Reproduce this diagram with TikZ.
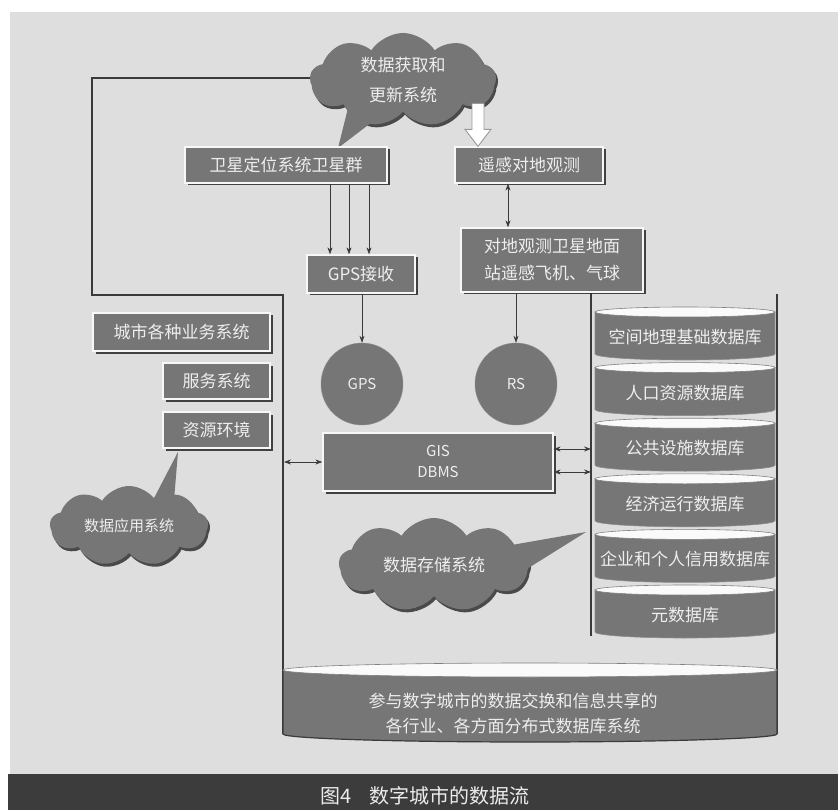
\documentclass[tikz,border=0pt]{standalone}
\usepackage{fontspec}
\setmainfont{Noto Sans CJK SC}
\usetikzlibrary{shapes.symbols,shadows,arrows.meta}
\definecolor{bg}{HTML}{DEDEDE}
\definecolor{boxg}{HTML}{767676}
\definecolor{txt}{HTML}{EEEEEE}
\definecolor{band}{HTML}{3C3C3C}
\definecolor{linec}{HTML}{3A3A3A}
\tikzset{
  bevel/.style={rectangle, fill=boxg, draw=white!94!gray, line width=1.3pt, text=txt,
    font=\fontsize{17}{27}\selectfont, align=center, inner sep=1pt,
    drop shadow={shadow xshift=2.5pt, shadow yshift=-2.5pt, fill=black!85, opacity=0.85}},
  arr/.style={draw=linec, line width=0.7pt, -{Stealth[length=7pt,width=5pt]}},
  darr/.style={draw=linec, line width=0.7pt, {Stealth[length=7pt,width=5pt]}-{Stealth[length=7pt,width=5pt]}},
  loopline/.style={draw=linec, line width=1.8pt},
  cloudn/.style={cloud, cloud puffs=9, cloud puff arc=115, cloud ignores aspect, fill=boxg,
    text=txt, inner sep=0pt, align=center, font=\fontsize{17}{30}\selectfont,
    drop shadow={shadow xshift=2pt, shadow yshift=-3pt, fill=black!85, opacity=0.8}},
  tailn/.style={fill=boxg},
  ball/.style={circle, fill=boxg, draw=black!45, text=txt, minimum size=82pt, inner sep=0pt,
    font=\fontsize{15}{18}\selectfont},
  dbtext/.style={text=txt, font=\fontsize{17}{25}\selectfont, align=center, inner sep=0pt},
  cylbody/.style={fill=boxg, draw=black!45, line width=0.6pt},
  cyltop/.style={fill=white!96!gray, draw=gray, line width=0.6pt},
}
\begin{document}
\begin{tikzpicture}[x=1pt,y=-1pt]
\useasboundingbox (0,0) rectangle (838,810);
\fill[white] (0,0) rectangle (838,810);
\fill[bg] (10,12) rectangle (838,774);
\fill[band] (8,774) rectangle (838,810);
\node[text=white!85!gray, font=\fontsize{20}{22}\selectfont, inner sep=0pt] (cap) at (425,796) {图4\hspace{18pt}数字城市的数据流};

% loop line and stack lines (behind shapes)
\path[loopline] (330,78) -- (92,78) -- (92,295) -- (283,295) -- (283,734);
\coordinate (stl) at (591,292);
\coordinate (str) at (777,294);
\path[loopline] (stl) -- (591,636);
\path[loopline] (str) -- (777,734);

% top cloud
\node[cloudn, minimum width=186pt, minimum height=94pt] (acq) at (403,80) {数据获取和\\更新系统};
\fill[tailn] (348,108) -- (380,116) -- (338,148) -- cycle;

% boxes
\node[bevel, minimum width=202pt, minimum height=36pt] (wx) at (286,165) {卫星定位系统卫星群};
\node[bevel, minimum width=148pt, minimum height=36pt] (yg) at (529,165) {遥感对地观测};
\node[bevel, minimum width=182pt, minimum height=64pt] (dm) at (552,260) {对地观测卫星地面\\站遥感飞机、气球};
\node[bevel, minimum width=108pt, minimum height=38pt] (gpsr) at (361,274) {GPS接收};
\node[bevel, minimum width=230pt, minimum height=58pt, font=\fontsize{15}{21}\selectfont] (gis) at (438,462) {GIS\\DBMS};
\node[bevel, minimum width=177pt, minimum height=38pt] (city) at (181.5,332) {城市各种业务系统};
\node[bevel, minimum width=107pt, minimum height=36pt] (fw) at (216.5,381) {服务系统};
\node[bevel, minimum width=107pt, minimum height=36pt] (zy) at (216.5,430) {资源环境};

% big hollow arrow from cloud to remote sensing box
\coordinate (tip) at ([xshift=-51pt]yg.north);
\path[fill=white, draw=gray!80, line width=0.9pt] (tip) -- ++(-13,-17) -- ++(7,0) -- ++(0,-26) -- ++(12,0) -- ++(0,26) -- ++(7,0) -- cycle;

% circles
\node[ball] (gps) at (362,384) {GPS};
\node[ball] (rs) at (516,384) {RS};

% arrows
\draw[arr] ([xshift=-31pt]gpsr.north |- wx.south) -- ([xshift=-31pt]gpsr.north);
\draw[arr] ([xshift=-12pt]gpsr.north |- wx.south) -- ([xshift=-12pt]gpsr.north);
\draw[arr] ([xshift=8pt]gpsr.north |- wx.south) -- ([xshift=8pt]gpsr.north);
\draw[darr] ([xshift=-21pt]yg.south) -- ([xshift=-21pt]yg.south |- dm.north);
\draw[arr] (gps.north |- gpsr.south) -- (gps.north);
\draw[arr] (rs.north |- dm.south) -- (rs.north);
\coordinate (lj) at (284,462);
\draw[darr] (lj) -- (gis.west);
\coordinate (rj1) at (591,449);
\coordinate (rj2) at (591,472);
\draw[darr] (gis.east |- rj1) -- (rj1);
\draw[darr] (gis.east |- rj2) -- (rj2);

% application cloud
\node[cloudn, minimum width=158pt, minimum height=80pt, font=\fontsize{15}{18}\selectfont] (app) at (129,526) {数据应用系统};
\fill[tailn] (152,502) -- (174,500) -- (178,452) -- cycle;

% storage cloud
\node[cloudn, minimum width=190pt, minimum height=94pt] (sto) at (434,565) {数据存储系统};
\fill[tailn] (506,546) -- (586,532) -- (522,572) -- cycle;

% database stack
\foreach \t [count=\i from 0] in {空间地理基础数据库,人口资源数据库,公共设施数据库,经济运行数据库,企业和个人信用数据库,元数据库} {
  \pgfmathsetmacro\yt{312+55.6*\i}
  \path[cylbody] (595,\yt) -- (595,\yt+42) arc[start angle=180,end angle=360,x radius=90pt,y radius=6pt] -- (775,\yt) -- cycle;
  \path[cyltop] (685,\yt) ellipse[x radius=90pt, y radius=5pt];
  \node[dbtext] (db\i) at (685,\yt+25) {\t};
}

% bottom big cylinder
\path[cylbody, draw=linec, line width=1.2pt] (283,670) -- (283,734) arc[start angle=180,end angle=360,x radius=247pt,y radius=8pt] -- (777,670) -- cycle;
\path[cyltop] (530,670) ellipse[x radius=247pt, y radius=7pt];
\node[dbtext] (dist) at (513,713) {参与数字城市的数据交换和信息共享的\\各行业、各方面分布式数据库系统};
\end{tikzpicture}
\end{document}
